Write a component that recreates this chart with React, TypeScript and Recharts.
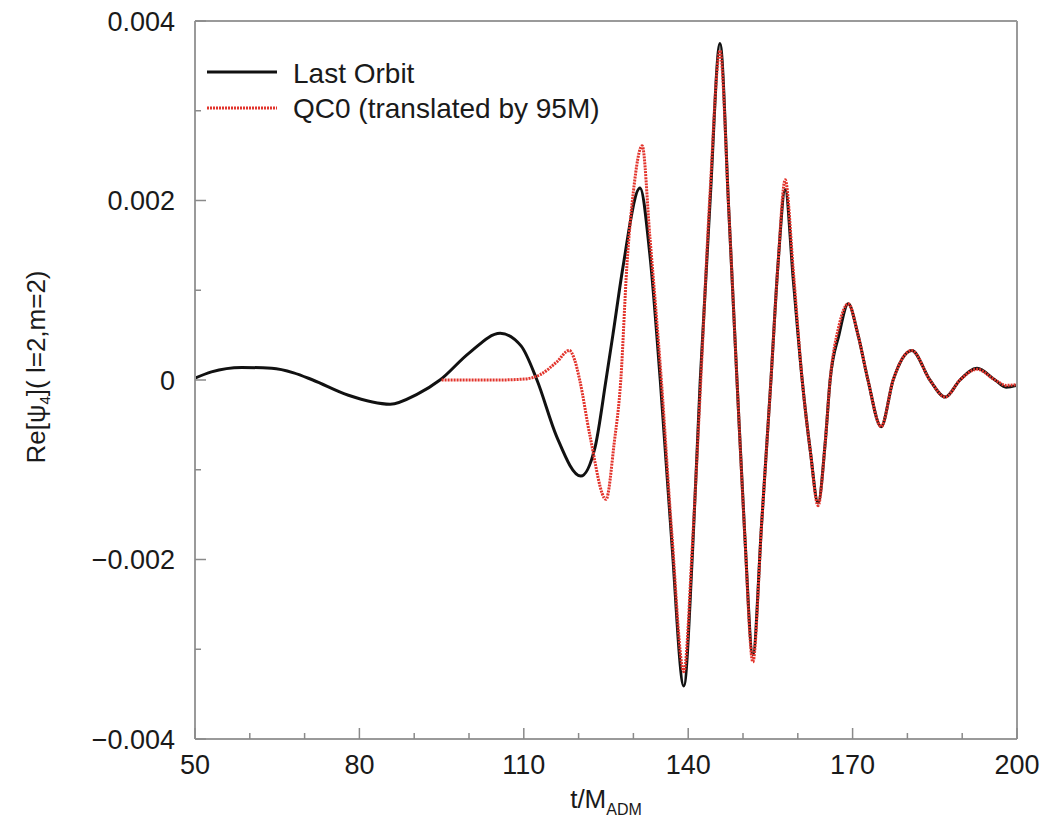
import React from "react"
import { LineChart, Line, XAxis, YAxis } from "recharts"

// Last Orbit waveform (black)
const blackT = [50, 53, 58.5, 64, 68, 71.5, 78, 85.6, 90.5, 94.7, 100, 105.7, 109.5, 112.4, 116, 120.4, 123, 125, 126.3, 128.1, 131.2, 133, 134.9, 137, 139.2, 140.8, 142.2, 144, 145.8, 147.4, 148.9, 150.3, 151.8, 153.4, 155.1, 156.4, 157.7, 159.2, 160.8, 162.3, 163.7, 165, 165.9, 167.5, 169.2, 171, 172.8, 175.2, 177.4, 180.8, 184.1, 186.9, 189.6, 192.7, 196, 198, 200]
const blackV = [0.00002, 0.00009, 0.00014, 0.00013, 0.00008, 0, -0.00017, -0.00027, -0.00016, 0, 0.0003, 0.00052, 0.00038, 0, -0.00063, -0.00107, -0.00075, 0, 0.00052, 0.00126, 0.00214, 0.0014, 0, -0.0018, -0.00341, -0.0019, 0, 0.002, 0.00375, 0.0019, 0, -0.0017, -0.00306, -0.0016, 0, 0.0013, 0.00212, 0.0011, 0, -0.0008, -0.00137, -0.0007, 0, 0.0005, 0.00085, 0.0005, 0, -0.00052, 0, 0.00033, 0, -0.00019, 0, 0.00013, 0, -0.00008, -0.00006]

// QC0 translated by 95M (red)
const redT = [95, 100, 105, 110, 113, 116, 118.3, 119.3, 120.2, 122.1, 125, 126.5, 127.7, 128.8, 130, 131.6, 133, 135.1, 137, 139.2, 140.8, 142.3, 144, 145.8, 147.4, 148.9, 150.3, 151.8, 153.4, 155.1, 156.4, 157.7, 159.2, 160.8, 162.3, 163.7, 165, 165.9, 167.5, 169.2, 171, 172.8, 175.2, 177.4, 180.8, 184.1, 186.9, 189.6, 192.7, 196, 198, 200]
const redV = [0, 0, 0, 0.00001, 0.00006, 0.0002, 0.00033, 0.00022, 0, -0.00063, -0.00133, -0.0007, 0, 0.00126, 0.0021, 0.00261, 0.0016, 0, -0.0017, -0.00325, -0.0018, 0, 0.0021, 0.00367, 0.0019, 0, -0.0017, -0.00314, -0.0016, 0, 0.0013, 0.00223, 0.0012, 0, -0.0008, -0.0014, -0.0007, 0, 0.0006, 0.00085, 0.0005, 0, -0.00052, 0, 0.00033, 0, -0.00019, 0, 0.00012, 0, -0.00006, -0.00005]

const xTicks = [50, 60, 70, 80, 90, 100, 110, 120, 130, 140, 150, 160, 170, 180, 190, 200]
const yTicks = [-0.004, -0.003, -0.002, -0.001, 0, 0.001, 0.002, 0.003, 0.004]
const yLabels: Record<string, string> = { "-0.004": "\u22120.004", "-0.002": "\u22120.002", "0": "0", "0.002": "0.002", "0.004": "0.004" }

const blackData = blackT.map((t, i) => ({ t, v: blackV[i] }))
const redData = redT.map((t, i) => ({ t, v: redV[i] }))

const FONT = "'Liberation Sans', Arial, sans-serif"
const frame = { stroke: "#9a9a9a", strokeWidth: 2 }

const isMajorX = (v: number) => (v - 50) % 30 === 0
const isMajorY = (v: number) => Math.abs(Math.round(v * 1000)) % 2 === 0

const BottomTick = (props: any) => {
  const { x, y, payload } = props
  const major = isMajorX(payload.value)
  return (
    <g>
      <line x1={x} x2={x} y1={y} y2={y - (major ? 11 : 6)} stroke="#8a8a8a" strokeWidth={1.5} />
      {major && (
        <text x={x} y={y + 35} textAnchor="middle" fontSize={27} fontFamily={FONT} fill="#1a1a1a">
          {payload.value}
        </text>
      )}
    </g>
  )
}

const TopTick = (props: any) => {
  const { x, y, payload } = props
  const major = isMajorX(payload.value)
  return <line x1={x} x2={x} y1={y} y2={y + (major ? 11 : 6)} stroke="#8a8a8a" strokeWidth={1.5} />
}

const LeftTick = (props: any) => {
  const { x, y, payload } = props
  const major = isMajorY(payload.value)
  const key = String(Math.round(payload.value * 1000) / 1000)
  return (
    <g>
      <line x1={x} x2={x + (major ? 11 : 6)} y1={y} y2={y} stroke="#8a8a8a" strokeWidth={1.5} />
      {major && (
        <text x={x - 20} y={y} dy="0.36em" textAnchor="end" fontSize={27} fontFamily={FONT} fill="#1a1a1a">
          {yLabels[key]}
        </text>
      )}
    </g>
  )
}

const RightTick = (props: any) => {
  const { x, y, payload } = props
  const major = isMajorY(payload.value)
  return <line x1={x} x2={x - (major ? 11 : 6)} y1={y} y2={y} stroke="#8a8a8a" strokeWidth={1.5} />
}

// legend drawn on top of the plot, top-left corner
const LegendBox = () => (
  <svg width={460} height={80} style={{ position: "absolute", left: 205, top: 58 }}>
    <line x1={2} x2={72} y1={14} y2={14} stroke="#111" strokeWidth={3} />
    <text x={88} y={25} fontSize={28} fontFamily={FONT} fill="#1a1a1a">Last Orbit</text>
    <line x1={2} x2={72} y1={50} y2={50} stroke="#e2342c" strokeWidth={3} strokeDasharray="2 1" />
    <text x={88} y={60} fontSize={28} fontFamily={FONT} fill="#1a1a1a">QC0 (translated by 95M)</text>
  </svg>
)

export default function App() {
  return (
    <div style={{ position: "absolute", left: 0, top: 0, width: 1053, height: 823, background: "#fff" }}>
      <LineChart width={1053} height={823} margin={{ top: 0, right: 0, bottom: 0, left: 0 }}>
        <XAxis
          xAxisId={0}
          dataKey="t"
          type="number"
          domain={[50, 200]}
          ticks={xTicks}
          interval={0}
          height={84}
          tickSize={0}
          tickMargin={0}
          axisLine={frame}
          tickLine={false}
          tick={<BottomTick />}
          allowDuplicatedCategory={false}
          label={{
            content: () => (
              <text x={606} y={808} textAnchor="middle" fontSize={26} fontFamily={FONT} fill="#1a1a1a">
                t/M<tspan fontSize={16} dy={7}>ADM</tspan>
              </text>
            ),
          }}
        />
        <XAxis
          xAxisId="top"
          orientation="top"
          dataKey="t"
          type="number"
          domain={[50, 200]}
          ticks={xTicks}
          interval={0}
          height={21}
          tickSize={0}
          tickMargin={0}
          axisLine={frame}
          tickLine={false}
          tick={<TopTick />}
        />
        <YAxis
          yAxisId={0}
          type="number"
          domain={[-0.004, 0.004]}
          ticks={yTicks}
          interval={0}
          width={195}
          tickSize={0}
          tickMargin={0}
          axisLine={frame}
          tickLine={false}
          tick={<LeftTick />}
          label={{
            content: () => (
              <text
                x={45}
                y={367}
                transform="rotate(-90 45 367)"
                textAnchor="middle"
                fontSize={26}
                fontFamily={FONT}
                fill="#1a1a1a"
              >
                Re[ψ<tspan fontSize={15} dy={5}>4</tspan><tspan dy={-5}>]( l=2,m=2)</tspan>
              </text>
            ),
          }}
        />
        <YAxis
          yAxisId="right"
          orientation="right"
          type="number"
          domain={[-0.004, 0.004]}
          ticks={yTicks}
          interval={0}
          width={36}
          tickSize={0}
          tickMargin={0}
          axisLine={frame}
          tickLine={false}
          tick={<RightTick />}
        />
        <Line
          data={blackData}
          xAxisId={0}
          yAxisId={0}
          dataKey="v"
          type="monotone"
          stroke="#111"
          strokeWidth={3}
          dot={false}
          isAnimationActive={false}
          name="Last Orbit"
        />
        <Line
          data={redData}
          xAxisId={0}
          yAxisId={0}
          dataKey="v"
          type="monotone"
          stroke="#e2342c"
          strokeWidth={3}
          strokeDasharray="2 1"
          dot={false}
          isAnimationActive={false}
          name="QC0 (translated by 95M)"
        />
      </LineChart>
      <LegendBox />
    </div>
  )
}
